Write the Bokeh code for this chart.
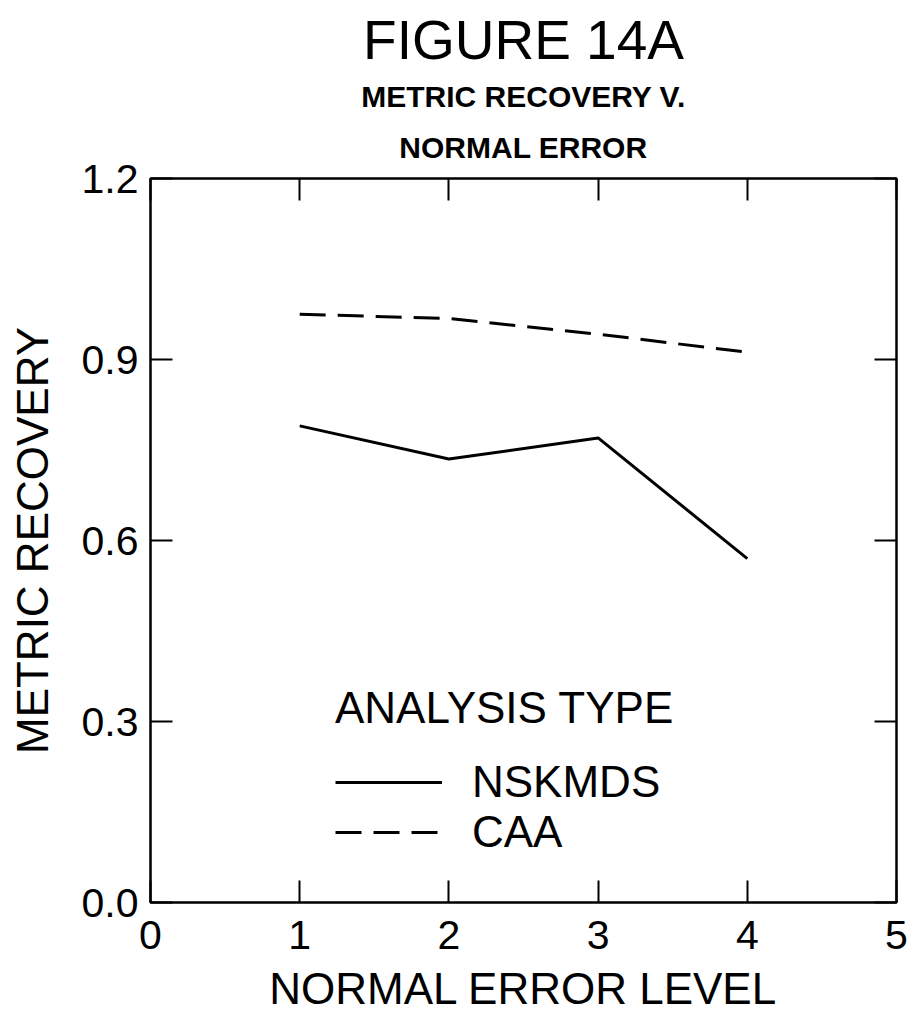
from bokeh.plotting import figure
from bokeh.models import (Range1d, FixedTicker, LinearAxis, Title, Legend, LegendItem,
                          CustomLabelingPolicy)
from bokeh.embed import file_html
from bokeh.resources import INLINE

# ---- data ----
error_level = [1, 2, 3, 4]
nskmds = [0.79, 0.735, 0.77, 0.57]
caa = [0.975, 0.968, 0.942, 0.912]
x_ticks = [0, 1, 2, 3, 4, 5]
y_ticks = [0.0, 0.3, 0.6, 0.9, 1.2]
y_tick_labels = {0.0: "0.0", 0.3: "0.3", 0.6: "0.6", 0.9: "0.9", 1.2: "1.2"}

FONT = "Liberation Sans"

p = figure(width=913, height=1017, output_backend="svg", toolbar_location=None,
           x_range=Range1d(0, 5), y_range=Range1d(0, 1.2),
           min_border_left=150, min_border_right=17, min_border_top=178,
           min_border_bottom=115, x_axis_location=None, y_axis_location=None)
p.background_fill_color = "white"
p.border_fill_color = "white"
p.outline_line_color = "black"
p.outline_line_width = 2.5
p.xgrid.visible = False
p.ygrid.visible = False


def style_axis(ax, show_labels=True):
    ax.axis_line_color = None
    ax.major_tick_in = 22
    ax.major_tick_out = 0
    ax.major_tick_line_width = 2
    ax.major_tick_line_color = "black"
    ax.minor_tick_line_color = None
    ax.major_label_text_font = FONT
    ax.major_label_text_font_size = "41px"
    ax.major_label_text_color = "black"
    ax.axis_label_text_font = FONT
    ax.axis_label_text_font_size = "44px"
    ax.axis_label_text_font_style = "normal"
    ax.axis_label_text_color = "black"
    if not show_labels:
        ax.major_label_text_font_size = "0px"
        ax.major_label_standoff = 0
        ax.major_label_policy = CustomLabelingPolicy(
            code="for (const i of indices) { indices.unset(i) }\nreturn indices")


bottom = LinearAxis(ticker=FixedTicker(ticks=x_ticks), axis_label="NORMAL ERROR LEVEL")
style_axis(bottom)
bottom.major_label_standoff = 18
bottom.axis_label_standoff = 12
p.add_layout(bottom, "below")

left = LinearAxis(ticker=FixedTicker(ticks=y_ticks), axis_label="METRIC RECOVERY")
style_axis(left)
left.major_label_overrides = y_tick_labels
left.major_label_standoff = 12
left.axis_label_standoff = 22
p.add_layout(left, "left")

top = LinearAxis(ticker=FixedTicker(ticks=x_ticks))
style_axis(top, show_labels=False)
p.add_layout(top, "above")

right = LinearAxis(ticker=FixedTicker(ticks=y_ticks))
style_axis(right, show_labels=False)
p.add_layout(right, "right")

# titles (added innermost first)
p.add_layout(Title(text="NORMAL ERROR", align="center", text_font=FONT,
                   text_color="black", text_font_size="30px",
                   text_font_style="bold", standoff=29), "above")
p.add_layout(Title(text="METRIC RECOVERY V.", align="center", text_font=FONT,
                   text_color="black", text_font_size="30px",
                   text_font_style="bold", standoff=3), "above")
p.add_layout(Title(text="FIGURE 14A", align="center", text_font=FONT,
                   text_color="black", text_font_size="55px",
                   text_font_style="normal", standoff=11), "above")

r1 = p.line(error_level, nskmds, line_color="black", line_width=3)
r2 = p.line(error_level, caa, line_color="black", line_width=3, line_dash="26 12")

legend = Legend(items=[LegendItem(label="NSKMDS", renderers=[r1]),
                       LegendItem(label="CAA", renderers=[r2])],
                title="ANALYSIS TYPE", location=(185, 45))
legend.title_text_font = FONT
legend.title_text_font_size = "44px"
legend.title_text_font_style = "normal"
legend.title_text_color = "black"
legend.title_standoff = 24
legend.label_text_font = FONT
legend.label_text_font_size = "44px"
legend.label_text_color = "black"
legend.glyph_width = 107
legend.label_standoff = 30
legend.spacing = 0
legend.padding = 0
legend.margin = 0
legend.border_line_color = None
legend.background_fill_alpha = 0
p.add_layout(legend, "center")

open("out.html", "w").write(file_html(p, INLINE))
